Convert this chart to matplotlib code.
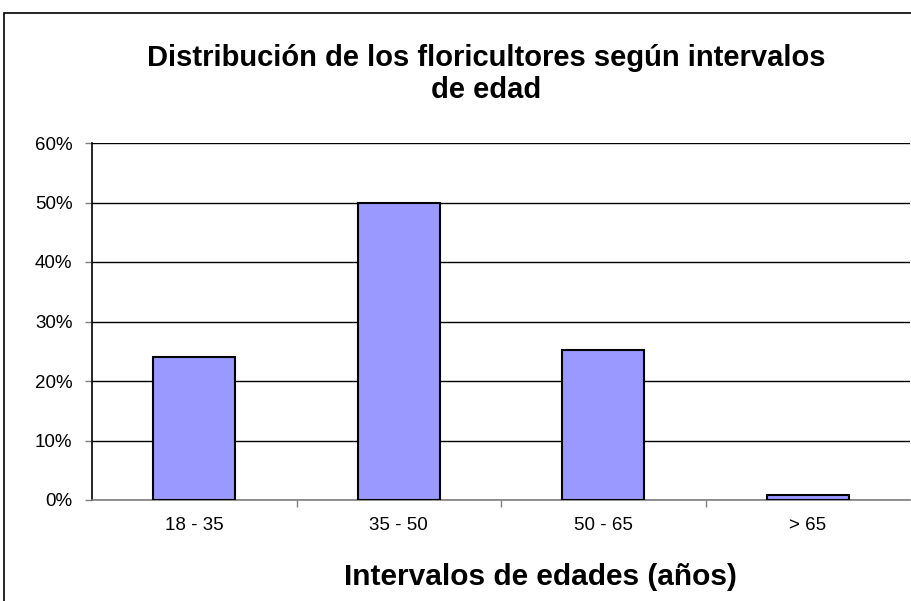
import matplotlib
matplotlib.use("Agg")
import matplotlib.pyplot as plt
from matplotlib.patches import Rectangle
from matplotlib.ticker import FuncFormatter

categories = ["18 - 35", "35 - 50", "50 - 65", "> 65"]
values = [24.1, 50.0, 25.2, 0.8]
yticks = [0, 10, 20, 30, 40, 50, 60]

plt.rcParams['font.family'] = ['Liberation Sans', 'DejaVu Sans']

fig = plt.figure(figsize=(9.11, 6.01), dpi=100)
fig.patch.set_facecolor('white')
# outer chart border (only top and left visible)
fig.add_artist(Rectangle((4/911, -0.1), 1.2, (601-13)/601 + 0.1, transform=fig.transFigure,
                         fill=False, edgecolor='black', linewidth=1.2))

ax = fig.add_axes([92/911, 101/601, 818/911, 357/601])
x = list(range(len(categories)))
ax.bar(x, values, width=0.4, color='#9999FF', edgecolor='black', linewidth=1.5, zorder=3)

ax.set_xlim(-0.5, len(categories) - 0.5)
ax.set_ylim(0, 60)
ax.set_yticks(yticks)
ax.yaxis.set_major_formatter(FuncFormatter(lambda v, p: f"{int(v)}%"))
ax.grid(axis='y', color='black', linewidth=1.0, zorder=0)
ax.set_axisbelow(True)

ax.set_xticks(x)
ax.set_xticklabels(categories)
ax.tick_params(axis='x', which='major', length=0, pad=12, labelsize=13.5)
ax.set_xticks([i + 0.5 for i in x[:-1]], minor=True)
ax.tick_params(axis='x', which='minor', length=5, color='#808080', width=1, direction='out')
ax.tick_params(axis='y', length=5, width=1, color='#808080', labelsize=13.5, pad=9)

for s in ['top', 'right']:
    ax.spines[s].set_visible(False)
ax.spines['left'].set_color('black')
ax.spines['bottom'].set_color('#808080')
ax.spines['left'].set_linewidth(1.2)
ax.spines['bottom'].set_linewidth(1.2)

fig.text(486/911, 1 - 74/601, "Distribución de los floricultores según intervalos\nde edad",
         ha='center', va='center', fontsize=21, fontweight='bold', linespacing=1.17)
fig.text(540/911, 1 - 577/601, "Intervalos de edades (años)", ha='center', va='center',
         fontsize=21.5, fontweight='bold')

fig.savefig("out.png", dpi=100)
